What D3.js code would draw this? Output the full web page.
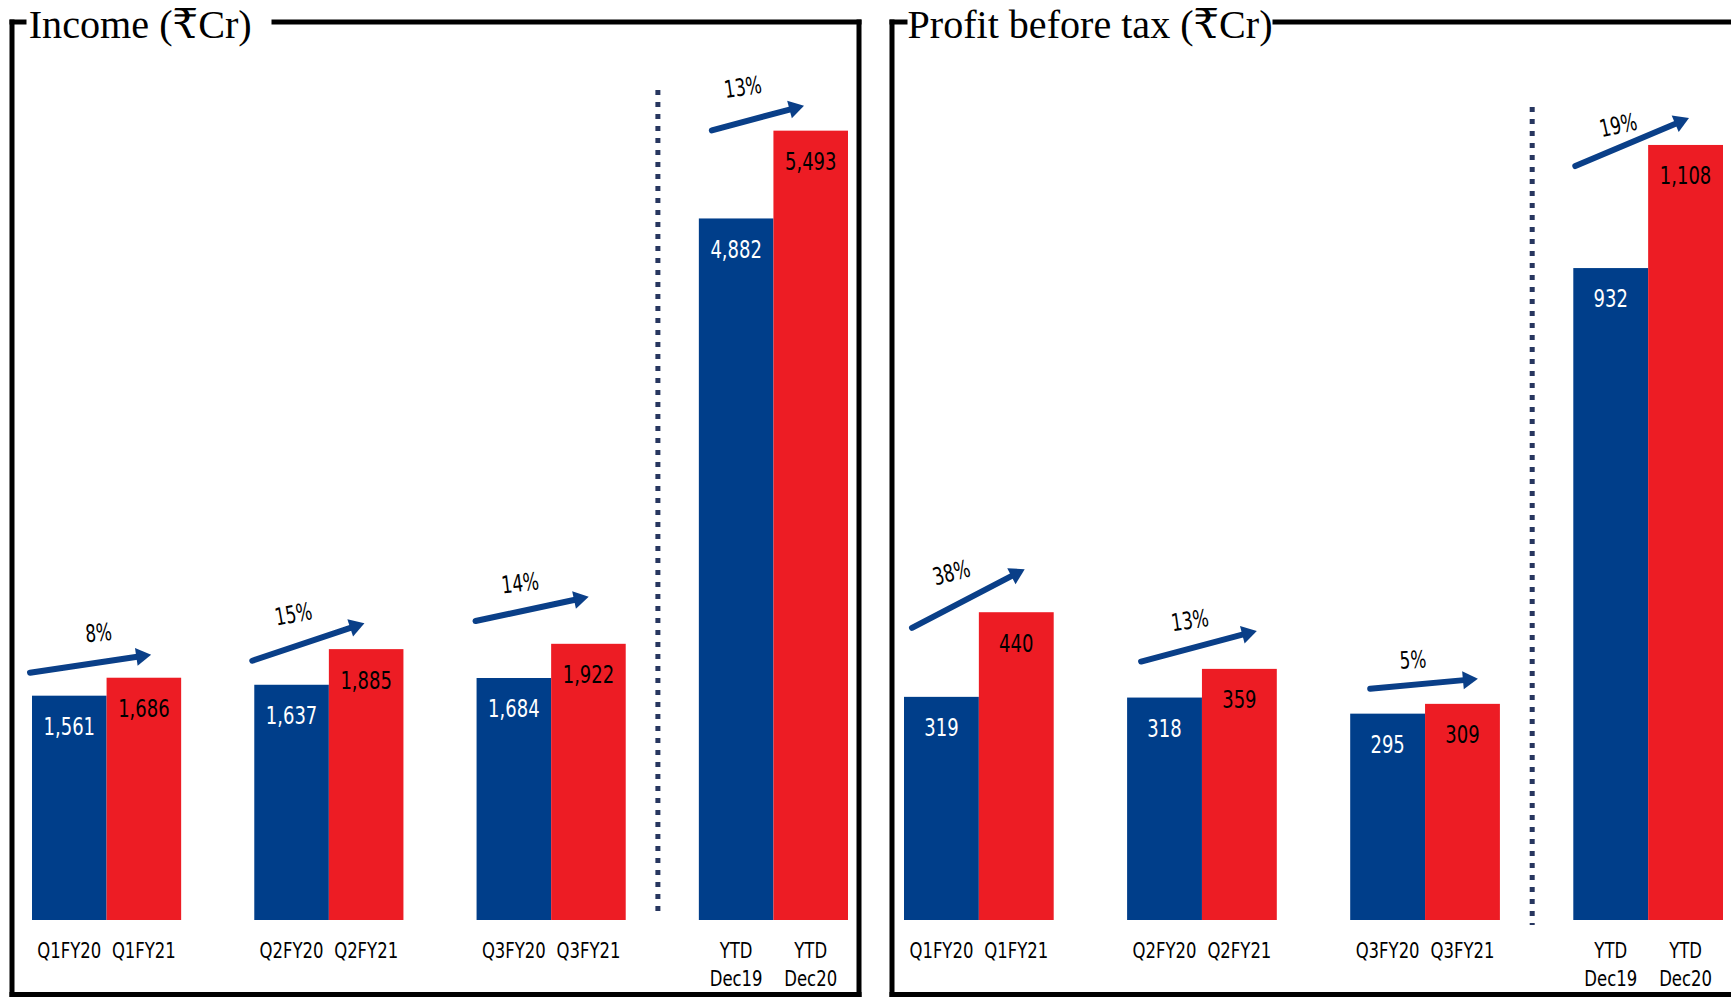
<!DOCTYPE html>
<html>
<head>
<meta charset="utf-8">
<script src="https://cdn.jsdelivr.net/npm/d3@7"></script>
<style>
  html, body { margin: 0; padding: 0; background: #ffffff; }
  svg { display: block; }
</style>
</head>
<body>
<div id="chart"></div>
<script>
// ---- Data -------------------------------------------------------------
const prevLabels = [["Q1FY20"], ["Q2FY20"], ["Q3FY20"], ["YTD", "Dec19"]];
const currLabels = [["Q1FY21"], ["Q2FY21"], ["Q3FY21"], ["YTD", "Dec20"]];

const incomePrev   = [1561, 1637, 1684, 4882];
const incomeCurr   = [1686, 1885, 1922, 5493];
const incomeGrowth = ["8%", "15%", "14%", "13%"];

const pbtPrev   = [319, 318, 295, 932];
const pbtCurr   = [440, 359, 309, 1108];
const pbtGrowth = ["38%", "13%", "5%", "19%"];

// ---- Layout -----------------------------------------------------------
const W = 1731, H = 997;
const baseY = 920;
const frameTop = 22, frameBottom = 994.5, frameStroke = 5;

const BLUE = "#003e8a";
const RED = "#ed1c24";
const ARROW = "#0a3f88";
const DOTS = "#27365f";

const numFont = "'Liberation Sans Narrow', 'DejaVu Sans Condensed', 'Open Sans', sans-serif";
const titleFont = "'Liberation Serif', 'DejaVu Serif', serif";

// arrow geometry per group: start offset from the left/top of the previous-year bar,
// tip offset from the right/top of the current-year bar, label offset from arrow middle
const incomeArrowLayout = [
  { s: [-2, 23],  e: [-30, 23], l: [8, -31] },
  { s: [-2, 24],  e: [-39, 26], l: [-15, -28] },
  { s: [-1, 57],  e: [-37, 47], l: [-12, -26] },
  { s: [13, 88],  e: [-44, 25], l: [-15, -31] }
];
const pbtArrowLayout = [
  { s: [8, 69],   e: [-29, 43], l: [-17, -26] },
  { s: [14, 36],  e: [-20, 38], l: [-9, -26] },
  { s: [20, 25],  e: [-22, 25], l: [-11, -24] },
  { s: [2, 102],  e: [-34, 27], l: [-14, -17] }
];

const panels = [
  {
    title: "Income (₹Cr)", prev: incomePrev, curr: incomeCurr, growth: incomeGrowth,
    yMax: 6000, yTop: 57.8, xRange: [32, 848],
    frameLeft: 12, frameRight: 859, titleX: 28.7, titleW: 223, titleGapL: 24, lineResume: 274,
    dotTop: 90, dotBottom: 911, arrows: incomeArrowLayout
  },
  {
    title: "Profit before tax (₹Cr)", prev: pbtPrev, curr: pbtCurr, growth: pbtGrowth,
    yMax: 1200, yTop: 80.6, xRange: [904, 1723],
    frameLeft: 892, frameRight: null, titleX: 907.5, titleW: 365, titleGapL: 905, lineResume: 1275,
    dotTop: 107, dotBottom: 925, arrows: pbtArrowLayout
  }
];

const fmt = d3.format(",");

const svg = d3.select("#chart").append("svg")
  .attr("width", W).attr("height", H)
  .attr("viewBox", `0 0 ${W} ${H}`);

svg.append("rect").attr("width", W).attr("height", H).attr("fill", "#ffffff");

// horizontal squeeze so the sans labels keep a narrow, Calibri-like width
function squeezeFor(sample, size, target) {
  const t = svg.append("text").attr("font-family", numFont).attr("font-size", size).text(sample);
  const w = t.node().getComputedTextLength();
  t.remove();
  return w > 0 ? Math.min(1, target / w) : 1;
}
const valSize = 24, catSize = 21, pctSize = 24;
const valSq = squeezeFor("1,561", valSize, 51.5);
const catSq = squeezeFor("Q1FY20", catSize, 64);
const pctSq = squeezeFor("15%", pctSize, 37.5);

panels.forEach(p => {
  const g = svg.append("g");
  const groups = d3.range(p.prev.length);

  const x = d3.scaleBand().domain(groups).range(p.xRange).paddingInner(0.329).paddingOuter(0);
  const xi = d3.scaleBand().domain(["prev", "curr"]).range([0, x.bandwidth()]);
  const y = d3.scaleLinear().domain([0, p.yMax]).range([baseY, p.yTop]);

  // frame
  const right = p.frameRight == null ? W : p.frameRight;
  const frame = g.append("g").attr("stroke", "#000").attr("stroke-width", frameStroke)
    .attr("stroke-linecap", "square").attr("fill", "none");
  frame.append("line").attr("x1", p.frameLeft).attr("x2", p.frameLeft).attr("y1", frameTop).attr("y2", frameBottom);
  frame.append("line").attr("x1", p.frameLeft).attr("x2", p.titleGapL).attr("y1", frameTop).attr("y2", frameTop);
  frame.append("line").attr("x1", p.lineResume).attr("x2", right).attr("y1", frameTop).attr("y2", frameTop);
  frame.append("line").attr("x1", p.frameLeft).attr("x2", right).attr("y1", frameBottom).attr("y2", frameBottom);
  if (p.frameRight != null) {
    frame.append("line").attr("x1", right).attr("x2", right).attr("y1", frameTop).attr("y2", frameBottom);
  }

  // title
  g.append("text")
    .attr("x", p.titleX).attr("y", 37.5)
    .attr("font-family", titleFont).attr("font-size", 41)
    .attr("textLength", p.titleW).attr("lengthAdjust", "spacingAndGlyphs")
    .attr("fill", "#000")
    .text(p.title);

  const rows = groups.map(i => ({
    i,
    bars: [
      { key: "prev", v: p.prev[i], label: prevLabels[i], fill: BLUE, text: "#ffffff" },
      { key: "curr", v: p.curr[i], label: currLabels[i], fill: RED, text: "#000000" }
    ]
  }));

  const grp = g.selectAll("g.grp").data(rows).join("g")
    .attr("class", "grp")
    .attr("transform", d => `translate(${x(d.i)},0)`);

  grp.selectAll("rect").data(d => d.bars).join("rect")
    .attr("x", d => xi(d.key))
    .attr("y", d => y(d.v))
    .attr("width", xi.bandwidth())
    .attr("height", d => y(0) - y(d.v))
    .attr("fill", d => d.fill);

  grp.selectAll("text.val").data(d => d.bars).join("text")
    .attr("class", "val")
    .attr("transform", d => `translate(${xi(d.key) + xi.bandwidth() / 2},${y(d.v) + 31}) scale(${valSq},1)`)
    .attr("dy", "0.35em")
    .attr("text-anchor", "middle")
    .attr("font-family", numFont).attr("font-size", valSize)
    .attr("fill", d => d.text)
    .text(d => fmt(d.v));

  grp.selectAll("text.cat").data(d => d.bars).join("text")
    .attr("class", "cat")
    .attr("transform", d => `translate(${xi(d.key) + xi.bandwidth() / 2},950.5) scale(${catSq},1)`)
    .attr("text-anchor", "middle")
    .attr("font-family", numFont).attr("font-size", catSize)
    .attr("fill", "#000")
    .each(function (d) {
      const t = d3.select(this);
      d.label.forEach((line, k) => {
        t.append("tspan")
          .attr("x", 0)
          .attr("y", k * 28.5)
          .attr("dy", "0.35em")
          .text(line);
      });
    });

  // growth arrows
  groups.forEach(i => {
    const a = p.arrows[i];
    const x0 = x(i) + xi("prev") + a.s[0];
    const y0 = y(p.prev[i]) - a.s[1];
    const x1 = x(i) + xi("curr") + xi.bandwidth() + a.e[0];
    const y1 = y(p.curr[i]) - a.e[1];
    const ang = Math.atan2(y1 - y0, x1 - x0);
    const headL = 15, headW = 9;
    const bx = x1 - headL * Math.cos(ang), by = y1 - headL * Math.sin(ang);
    g.append("line")
      .attr("x1", x0).attr("y1", y0).attr("x2", bx + Math.cos(ang)).attr("y2", by + Math.sin(ang))
      .attr("stroke", ARROW).attr("stroke-width", 6).attr("stroke-linecap", "round");
    const nx = -Math.sin(ang), ny = Math.cos(ang);
    g.append("polygon")
      .attr("points", [
        [x1, y1],
        [bx + nx * headW, by + ny * headW],
        [bx - nx * headW, by - ny * headW]
      ].map(q => q.join(",")).join(" "))
      .attr("fill", ARROW);

    const mx = (x0 + x1) / 2 + a.l[0], my = (y0 + y1) / 2 + a.l[1];
    g.append("text")
      .attr("transform", `translate(${mx},${my}) rotate(${ang * 180 / Math.PI * 0.55}) scale(${pctSq},1)`)
      .attr("dy", "0.35em")
      .attr("text-anchor", "middle")
      .attr("font-family", numFont).attr("font-size", pctSize)
      .attr("fill", "#000")
      .text(p.growth[i]);
  });

  // dotted separator between the quarters and the year-to-date pair
  const last = groups.length - 1;
  const gapStart = x(last - 1) + x.bandwidth();
  const sepX = gapStart + (x(last) - gapStart) * 0.44;
  g.append("line")
    .attr("x1", sepX).attr("x2", sepX)
    .attr("y1", p.dotTop).attr("y2", p.dotBottom)
    .attr("stroke", DOTS).attr("stroke-width", 5)
    .attr("stroke-dasharray", "5 7");
});
</script>
</body>
</html>
